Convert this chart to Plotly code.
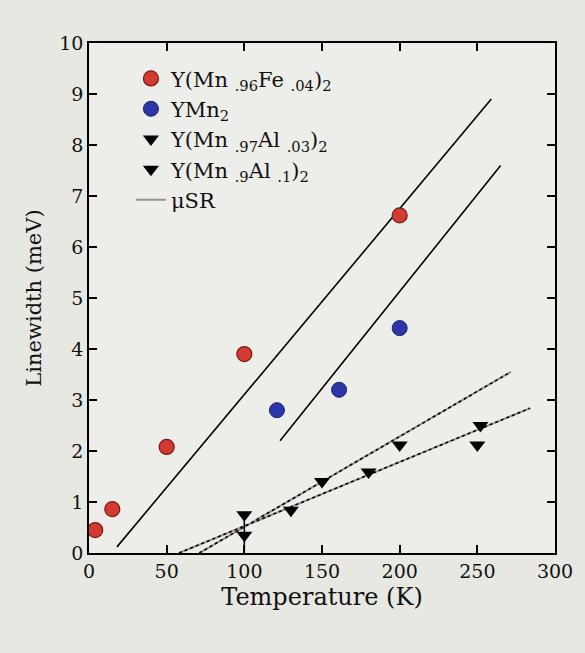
import plotly.graph_objects as go

# Data (Temperature in K, Linewidth in meV)
fe_T = [4, 15, 50, 100, 200]
fe_W = [0.45, 0.86, 2.08, 3.9, 6.62]

ymn2_T = [121, 161, 200]
ymn2_W = [2.8, 3.2, 4.41]

al03_T = [100, 150, 200, 252]
al03_W = [0.75, 1.4, 2.12, 2.5]

al1_T = [100, 130, 180, 250]
al1_W = [0.35, 0.84, 1.59, 2.12]
al1_err = [0.35, 0, 0, 0]

# Fit lines (endpoints)
fit_fe_T = [18, 259]
fit_fe_W = [0.12, 8.9]
fit_ymn2_T = [123, 265]
fit_ymn2_W = [2.2, 7.6]
fit_al03_T = [71, 271.5]
fit_al03_W = [0.0, 3.55]
fit_al1_T = [58, 284]
fit_al1_W = [0.0, 2.84]

x_ticks = [0, 50, 100, 150, 200, 250, 300]
y_ticks = list(range(0, 11))

FONT = "DejaVu Serif"

fig = go.Figure()

# fit lines: gray underlay + black dotted overlay for Al series (muSR look)
for tx, wy in [(fit_al03_T, fit_al03_W), (fit_al1_T, fit_al1_W)]:
    fig.add_trace(go.Scatter(x=tx, y=wy, mode="lines",
                             line=dict(color="#9a9090", width=2),
                             showlegend=False, hoverinfo="skip"))
    fig.add_trace(go.Scatter(x=tx, y=wy, mode="lines",
                             line=dict(color="black", width=1.6, dash="dot"),
                             showlegend=False, hoverinfo="skip"))
for tx, wy in [(fit_fe_T, fit_fe_W), (fit_ymn2_T, fit_ymn2_W)]:
    fig.add_trace(go.Scatter(x=tx, y=wy, mode="lines",
                             line=dict(color="black", width=1.6),
                             showlegend=False, hoverinfo="skip"))

fig.add_trace(go.Scatter(
    x=fe_T, y=fe_W, mode="markers",
    name="Y(Mn <sub>.96</sub>Fe <sub>.04</sub>)<sub>2</sub>",
    marker=dict(symbol="circle", size=15, color="#d23a32",
                line=dict(color="#7a1a14", width=1.2))))
fig.add_trace(go.Scatter(
    x=ymn2_T, y=ymn2_W, mode="markers",
    name="YMn<sub>2</sub>",
    marker=dict(symbol="circle", size=15, color="#2c36a8",
                line=dict(color="#1a1f70", width=1))))
fig.add_trace(go.Scatter(
    x=al03_T, y=al03_W, mode="markers",
    name="Y(Mn <sub>.97</sub>Al <sub>.03</sub>)<sub>2</sub>",
    marker=dict(symbol="triangle-down", size=14, color="black")))
fig.add_trace(go.Scatter(
    x=al1_T, y=al1_W, mode="markers",
    name="Y(Mn <sub>.9</sub>Al <sub>.1</sub>)<sub>2</sub>",
    error_y=dict(type="data", array=al1_err, color="black",
                 thickness=1.5, width=0),
    marker=dict(symbol="triangle-down", size=14, color="black")))
fig.add_trace(go.Scatter(
    x=[None], y=[None], mode="lines", name="\u03bcSR",
    line=dict(color="#9a9090", width=2)))

axis_common = dict(
    showline=True, linecolor="black", linewidth=1.5, mirror="ticks",
    ticks="inside", ticklen=8, tickwidth=1.5, tickcolor="black",
    showgrid=False, zeroline=False,
    tickfont=dict(family=FONT, size=19, color="#111"),
)

fig.update_layout(
    width=585, height=653,
    margin=dict(l=89, r=22, t=43, b=100),
    paper_bgcolor="#e8e8e3",
    plot_bgcolor="#ededE9",
    font=dict(family=FONT, color="#111"),
    xaxis=dict(range=[0, 300], tickvals=x_ticks,
               title=dict(text="Temperature (K)",
                          font=dict(family=FONT, size=24), standoff=8),
               **axis_common),
    yaxis=dict(range=[0, 10], tickvals=y_ticks,
               title=dict(text="Linewidth (meV)",
                          font=dict(family=FONT, size=21), standoff=12),
               **axis_common),
    legend=dict(x=0.09, y=0.97, xanchor="left", yanchor="top",
                bgcolor="rgba(0,0,0,0)", borderwidth=0,
                font=dict(family=FONT, size=21, color="#111"),
                tracegroupgap=2, itemwidth=30),
    showlegend=True,
)

fig.write_html("out.html")
